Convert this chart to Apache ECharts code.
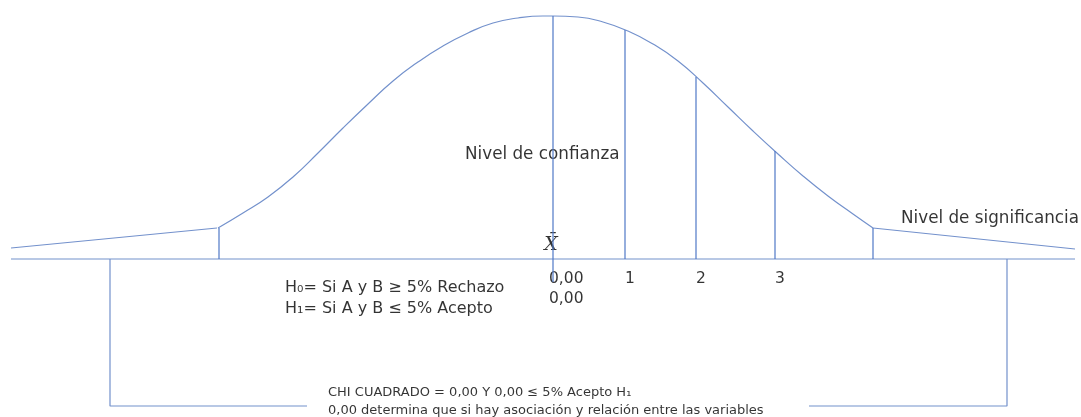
<!DOCTYPE html>
<html>
<head>
<meta charset="utf-8">
<script src="https://cdn.jsdelivr.net/npm/echarts@6/dist/echarts.min.js"></script>
<style>
  html, body { margin: 0; padding: 0; background: #fff; }
  #chart { width: 1081px; height: 417px; }
</style>
</head>
<body>
<div id="chart"></div>
<script>
// x = offset from the mean line, y = height above the base line
const leftTail = [[-542, 11], [-336, 31]]
const bellCurve = [
  [-335, 31], [-310, 46], [-285, 62], [-260, 82], [-235, 106], [-210, 131],
  [-185, 155], [-160, 178], [-135, 197], [-110, 213], [-85, 226], [-60, 236],
  [-35, 241], [-10, 243], [0, 243], [25, 242], [50, 237], [75, 228],
  [100, 215], [125, 198], [150, 176], [175, 152], [200, 128], [225, 105],
  [250, 83], [275, 63], [300, 45], [320, 31]
]
const rightTail = [[320, 31], [522, 10]]
const baseLine = [[-542, 0], [522, 0]]

// vertical cut lines: [x, bottom, top]
const cutLines = [
  [-334, 0, 31], [0, -23, 243], [72, 0, 229], [143, 0, 182], [222, 0, 108], [320, 0, 31]
]

// bracket under the axis
const bracketLeft = [[-443, 0], [-443, -147], [-246, -147]]
const bracketRight = [[256, -147], [454, -147], [454, 0]]

// numbers under the axis
const tickLabels = ['0,00', '1', '2', '3', '0,00']
const tickPoints = [[-4, -20], [72, -20], [143, -20], [222, -20], [-4, -40]]

// free text: [x, y, text]
const levelNotes = [
  [-88, 104, 'Nivel de confianza'],
  [348, 40, 'Nivel de significancia']
]
const hypotheses = [
  [-268, -29, 'H₀= Si A y B ≥ 5% Rechazo'],
  [-268, -50, 'H₁= Si A y B ≤ 5% Acepto']
]
const footNotes = [
  [-225, -134, 'CHI CUADRADO = 0,00 Y 0,00 ≤ 5% Acepto H₁'],
  [-225, -152, '0,00 determina que si hay asociación y relación entre las variables']
]
const meanMark = [[-2, 14, 'X̄']]

const lineColor = '#7391cc'
const font = '"DejaVu Sans", sans-serif'

function segment(data, color) {
  return {
    type: 'line',
    data: data,
    symbol: 'none',
    silent: true,
    lineStyle: { color: color || lineColor, width: 1.2 }
  }
}

function textSeries(data, size, extra) {
  return {
    type: 'scatter',
    symbolSize: 0,
    silent: true,
    data: data.map(d => ({ value: [d[0], d[1]], name: d[2] })),
    label: Object.assign({
      show: true,
      position: 'right',
      distance: 0,
      formatter: p => p.name,
      color: '#000',
      fontFamily: font,
      fontSize: size
    }, extra || {})
  }
}

const chart = echarts.init(document.getElementById('chart'))

const series = [
  segment(baseLine),
  segment(leftTail),
  Object.assign(segment(bellCurve), { smooth: 0.5 }),
  segment(rightTail),
  segment(bracketLeft),
  segment(bracketRight)
]
cutLines.forEach(c => {
  series.push(segment([[c[0], c[1]], [c[0], c[2]]], '#4f78c6'))
})
series.push(textSeries(levelNotes, 16.8))
series.push(textSeries(hypotheses, 16))
series.push(textSeries(footNotes, 13))
series.push(textSeries(tickLabels.map((t, i) => [tickPoints[i][0], tickPoints[i][1], t]), 15.5))
series.push(textSeries(meanMark, 19, {
  position: 'inside',
  fontFamily: '"DejaVu Serif", serif',
  fontStyle: 'italic'
}))

chart.setOption({
  animation: false,
  grid: { left: 0, right: 0, top: 0, bottom: 0 },
  xAxis: { type: 'value', min: -553, max: 528, show: false },
  yAxis: { type: 'value', min: -158, max: 259, show: false },
  series: series
})
</script>
</body>
</html>
